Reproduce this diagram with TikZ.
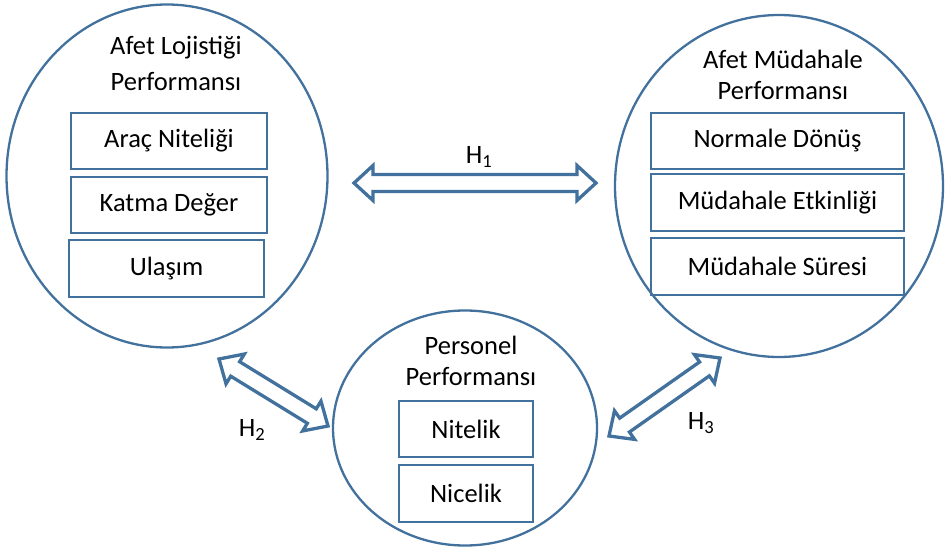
\documentclass[tikz,border=0pt]{standalone}
\usepackage{fontspec}
\setmainfont{Carlito}
\usetikzlibrary{calc,shapes.geometric}
\definecolor{bl}{RGB}{65,113,156}
\newcommand\hdblarrow[2]{%
  \draw[dbl] (#1)
    -- ($(#1)!19pt!(#2)!17.5pt!90:(#2)$)
    -- ($(#1)!19pt!(#2)!8.5pt!90:(#2)$)
    -- ($(#2)!19pt!(#1)!8.5pt!-90:(#1)$)
    -- ($(#2)!19pt!(#1)!17.5pt!-90:(#1)$)
    -- (#2)
    -- ($(#2)!19pt!(#1)!17.5pt!90:(#1)$)
    -- ($(#2)!19pt!(#1)!8.5pt!90:(#1)$)
    -- ($(#1)!19pt!(#2)!8.5pt!-90:(#2)$)
    -- ($(#1)!19pt!(#2)!17.5pt!-90:(#2)$)
    -- cycle;}
\begin{document}
\begin{tikzpicture}[x=1pt,y=-1pt,
  circ/.style={draw=bl,line width=2.3pt,ellipse,inner sep=0pt},
  box/.style={draw=bl,line width=2.6pt,inner sep=0pt,font=\fontsize{26.5}{30}\selectfont},
  ttl/.style={inner sep=0pt,font=\fontsize{26.5}{30}\selectfont},
  dbl/.style={draw=bl,line width=3.3pt,fill=white,line join=miter}]
\useasboundingbox (0,0) rectangle (945,548);
% circles
\node[circ,minimum width=321pt,minimum height=343pt] (cl) at (167,176) {};
\node[circ,minimum width=328pt,minimum height=342pt] (cr) at (779,186) {};
\node[circ,minimum width=264pt,minimum height=235pt] (cb) at (465,428) {};
% titles
\node[ttl] (tl1) at (176,48) {Afet Lojistiği};
\node[ttl] (tl2) at (176,82) {Performansı};
\node[ttl] (tr1) at (783,59) {Afet Müdahale};
\node[ttl] (tr2) at (783,91) {Performansı};
\node[ttl] (tb1) at (471,345) {Personel};
\node[ttl] (tb2) at (471,377) {Performansı};
% boxes
\node[box,minimum width=196pt,minimum height=56pt] (l1) at (169,141) {Araç Niteliği};
\node[box,minimum width=196pt,minimum height=56pt] (l2) at (169,205) {Katma Değer};
\node[box,minimum width=195pt,minimum height=57pt] (l3) at (166.5,268.5) {Ulaşım};
\node[box,minimum width=253pt,minimum height=56pt] (r1) at (777.5,141) {Normale Dönüş};
\node[box,minimum width=253pt,minimum height=57pt] (r2) at (777.5,202.5) {Müdahale Etkinliği};
\node[box,minimum width=253pt,minimum height=57pt] (r3) at (777.5,266.5) {Müdahale Süresi};
\node[box,minimum width=134pt,minimum height=56pt] (b1) at (466,429) {Nitelik};
\node[box,minimum width=134pt,minimum height=57pt] (b2) at (466,493.5) {Nicelik};
% arrows
\coordinate (h1a) at (354,183);
\coordinate (h1b) at (596,183);
\coordinate (h2a) at (219,359);
\coordinate (h2b) at (328,426);
\coordinate (h3a) at (609,436);
\coordinate (h3b) at (720,358);
\hdblarrow{h1a}{h1b}
\hdblarrow{h2a}{h2b}
\hdblarrow{h3a}{h3b}
% labels
\node[ttl] (H1) at (479,157) {H\textsubscript{1}};
\node[ttl] (H2) at (252,430) {H\textsubscript{2}};
\node[ttl] (H3) at (701,423) {H\textsubscript{3}};
\end{tikzpicture}
\end{document}
